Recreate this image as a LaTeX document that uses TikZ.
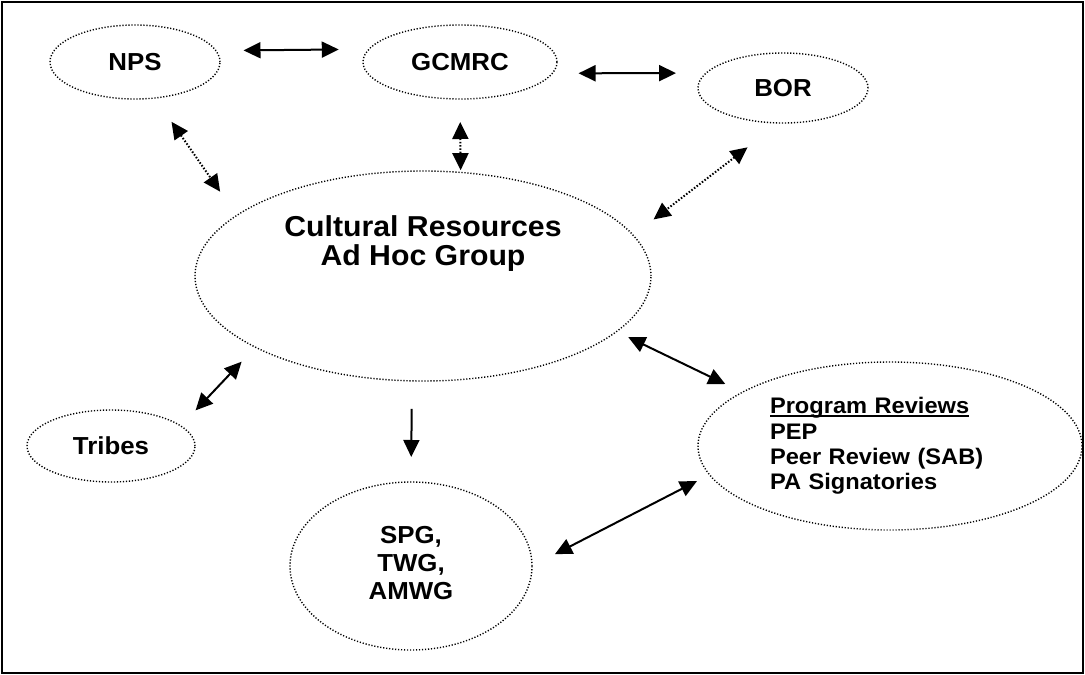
\documentclass[tikz,border=0pt]{standalone}
\usepackage{fontspec}
\setmainfont{Liberation Sans}[FakeStretch=1.05]
\usetikzlibrary{shapes.geometric,arrows.meta}

\newcommand{\thickUnder}[1]{\setbox0\hbox{#1}\rlap{\rule[-3pt]{\wd0}{1.8pt}}\box0}

\tikzset{
  orgNode/.style={ellipse, draw, line width=1.4pt, dash pattern=on 1.2pt off 1.8pt, inner sep=0pt, outer sep=0pt, align=center, font=\fontsize{24.6}{28}\selectfont\bfseries},
  biArrow/.style={{Triangle[length=17pt,width=16pt]}-{Triangle[length=17pt,width=16pt]}, line width=2pt},
  dotArrow/.style={biArrow, dash pattern=on 1.5pt off 1.8pt},
  oneArrow/.style={-{Triangle[length=17pt,width=16pt]}, line width=2pt}
}

\begin{document}
\begin{tikzpicture}[x=1pt, y=-1pt]
        \useasboundingbox (0,0) rectangle (1085,675);
        \draw[line width=2.2pt] (2,2) rectangle (1083,673);

        \node[orgNode, minimum width=170pt, minimum height=74pt] (npsNode) at (135,62) {NPS};
        \node[orgNode, minimum width=194pt, minimum height=74pt] (gcmrcNode) at (460,62) {GCMRC};
        \node[orgNode, minimum width=170pt, minimum height=70pt] (borNode) at (783,88) {BOR};
        \node[orgNode, minimum width=456pt, minimum height=210pt, text depth=70pt, font=\fontsize{28.8}{29}\selectfont\bfseries] (crNode) at (423,276) {Cultural Resources\\Ad Hoc Group};
        \node[orgNode, minimum width=168pt, minimum height=72pt] (tribesNode) at (111,446) {Tribes};
        \node[orgNode, minimum width=242pt, minimum height=168pt, text depth=6pt] (groupsNode) at (411,566) {SPG,\\TWG,\\AMWG};
        \node[orgNode, minimum width=384pt, minimum height=168pt, text width=240pt, align=left, font=\fontsize{22.5}{25.3}\selectfont\bfseries] (reviewsNode) at (890,446) {\thickUnder{Program Reviews}\\PEP\\Peer Review (SAB)\\PA Signatories};

        \draw (npsNode.8.5) edge[biArrow, shorten <=27.6pt, shorten >=30.2pt] (gcmrcNode.172.5);
        \draw (gcmrcNode.-7.5) edge[biArrow, shorten <=26.2pt, shorten >=30.1pt] (borNode.169.8);
        \draw (npsNode.-61) edge[dotArrow, shorten <=29pt, shorten >=29pt] (crNode.162.7);
        \draw (gcmrcNode.south) edge[dotArrow, shorten <=23pt, shorten >=2.3pt] (crNode.70.9);
        \draw (borNode.-96.4) edge[dotArrow, shorten <=40pt, shorten >=25.8pt] (crNode.11.5);
        \draw (tribesNode.16.6) edge[biArrow, shorten <=21.5pt, shorten >=20pt] (crNode.203.2);
        \draw (crNode.-96.5) edge[oneArrow, shorten <=28pt, shorten >=25pt] (groupsNode.north);
        \draw (crNode.-16.3) edge[biArrow, shorten <=13pt, shorten >=19pt] (reviewsNode.160.6);
        \draw (groupsNode.0) edge[biArrow, shorten <=25.8pt, shorten >=14pt] (reviewsNode.189.4);
      \end{tikzpicture}
\end{document}
